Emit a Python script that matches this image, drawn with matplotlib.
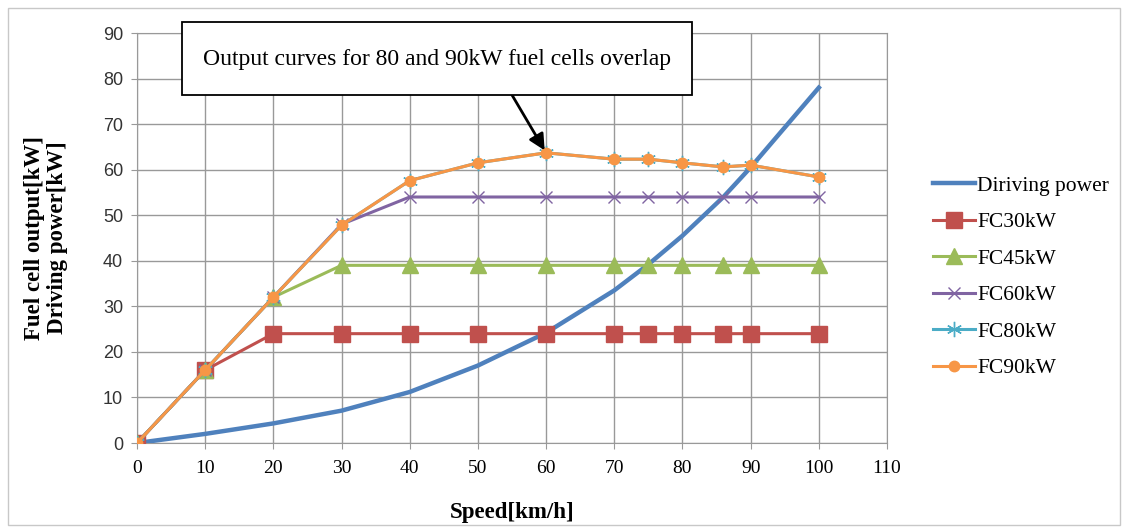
import numpy as np
import matplotlib
matplotlib.use("Agg")
import matplotlib.pyplot as plt
from matplotlib.patches import Rectangle

# data
speed = [0, 10, 20, 30, 40, 50, 60, 70, 75, 80, 86, 90, 100]
driving = [0, 2, 4.3, 7.1, 11.2, 17, 24.2, 33.5, 39.2, 45.5, 54, 60.5, 78]
fc30 = [0, 16, 24, 24, 24, 24, 24, 24, 24, 24, 24, 24, 24]
fc45 = [0, 16, 32, 39, 39, 39, 39, 39, 39, 39, 39, 39, 39]
fc60 = [0, 16, 32, 48, 54, 54, 54, 54, 54, 54, 54, 54, 54]
fc80 = [0, 16, 32, 47.8, 57.6, 61.5, 63.7, 62.3, 62.3, 61.5, 60.6, 61, 58.4]
fc90 = [0, 16, 32, 47.8, 57.6, 61.5, 63.7, 62.3, 62.3, 61.5, 60.6, 61, 58.4]

x_ticks = list(range(0, 111, 10))
y_ticks = list(range(0, 91, 10))

serif = "Liberation Serif"
sans = "Liberation Sans"
W, H = 1126, 530

fig = plt.figure(figsize=(W / 100, H / 100), dpi=100)
# outer chart border
fig.patches.append(Rectangle((8 / W, 5 / H), 1112 / W, 517 / H,
                             transform=fig.transFigure, fill=False,
                             edgecolor="#c8c8c8", lw=1))
ax = fig.add_axes([137 / W, 1 - 443 / H, 750 / W, 410 / H])

ax.plot(speed, driving, color="#4F81BD", lw=3.2, label="Diriving power", zorder=3)
ax.plot(speed, fc30, color="#C0504D", lw=2.2, marker="s", ms=11,
        label="FC30kW", zorder=4)
ax.plot(speed, fc45, color="#9BBB59", lw=2.2, marker="^", ms=11,
        label="FC45kW", zorder=4)
ax.plot(speed, fc60, color="#8064A2", lw=2.2, marker="x", ms=9, mew=1,
        label="FC60kW", zorder=4)
ax.plot(speed, fc80, color="#4BACC6", lw=2.2, marker=(6, 2, 0), ms=11, mew=1,
        label="FC80kW", zorder=5)
ax.plot(speed, fc90, color="#F79646", lw=2.2, marker="o", ms=7.5,
        label="FC90kW", zorder=6)

ax.set_xlim(0, 110)
ax.set_ylim(0, 90)
ax.set_xticks(x_ticks)
ax.set_yticks(y_ticks)
ax.grid(True, color="#999999", lw=1)
ax.set_axisbelow(True)
for s in ax.spines.values():
    s.set_color("#999999")
ax.tick_params(length=4, color="#999999")
ax.tick_params(axis="x", pad=8)
ax.tick_params(axis="y", pad=6)
for t in ax.get_xticklabels():
    t.set_fontfamily(serif)
    t.set_fontsize(14)
for t in ax.get_yticklabels():
    t.set_fontfamily(sans)
    t.set_fontsize(13)
    t.set_color("#333333")

ax.set_xlabel("Speed[km/h]", fontfamily=serif, fontweight="bold",
              fontsize=16.5, labelpad=18)
fig.text(46 / W, 1 - 238 / H, "Fuel cell output[kW]\nDriving power[kW]",
         rotation=90, ha="center", va="center", fontfamily=serif,
         fontweight="bold", fontsize=16.5, linespacing=1.1)

ax.legend(loc="center left", bbox_to_anchor=(1.061, 0.405),
          frameon=False, prop={"family": serif, "size": 15.5},
          borderaxespad=0, borderpad=0,
          handlelength=1.95, handletextpad=0.12, labelspacing=0.76)

# callout box with arrow
fig.patches.append(Rectangle((182 / W, 1 - 95 / H), 510 / W, 73 / H,
                             transform=fig.transFigure, fc="white",
                             ec="black", lw=1.3, zorder=10))
fig.text(437 / W, 1 - 59 / H, "Output curves for 80 and 90kW fuel cells overlap",
         ha="center", va="center", fontfamily=serif, fontsize=17, zorder=11)
ax.annotate("", xy=(60, 63.7), xycoords="data",
            xytext=(512 / W, 1 - 95 / H), textcoords="figure fraction",
            arrowprops=dict(arrowstyle="-|>", color="black", lw=2,
                            mutation_scale=24, shrinkA=0, shrinkB=2),
            zorder=10)

fig.savefig("out.png", dpi=100)
